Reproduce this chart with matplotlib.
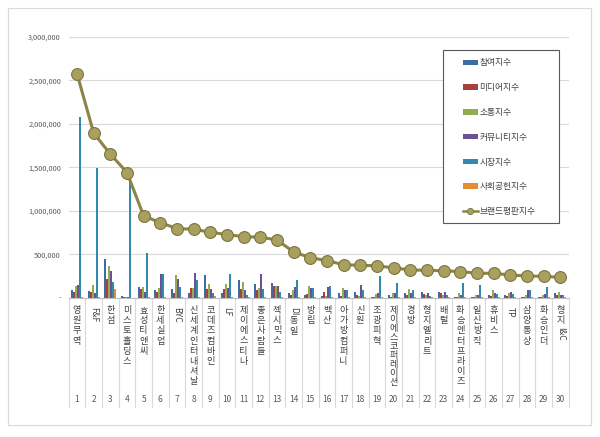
import matplotlib
matplotlib.use('Agg')
import matplotlib.pyplot as plt
import matplotlib.transforms as mtransforms
import numpy as np
from matplotlib.patches import Rectangle
from matplotlib.lines import Line2D
from matplotlib.ticker import FuncFormatter

plt.rcParams['font.family'] = ['Noto Sans CJK KR', 'DejaVu Sans']

# ---------------- data ----------------
categories = ['영원무역', 'F&F', '한섬', '미스토홀딩스', '효성티앤씨', '한세실업', 'BYC',
              '신세계인터내셔날', '코데즈컴바인', 'LF', '제이에스티나', '좋은사람들', '젝시믹스',
              'DI동일', '방림', '백산', '아가방컴퍼니', '신원', '조광피혁', '제이에스코퍼레이션',
              '경방', '형지엘리트', '배럴', '화승엔터프라이즈', '일신방직', '휴비스', 'TP',
              '삼양통상', '화승인더', '형지I&C']
ranks = list(range(1, 31))

series_names = ['참여지수', '미디어지수', '소통지수', '커뮤니티지수', '시장지수', '사회공헌지수']
line_name = '브랜드평판지수'

participation = [88000, 80000, 442000, 20000, 120000, 88000, 96000, 50000, 262000, 50000,
                 204000, 158000, 165000, 50000, 30000, 20000, 50000, 70000, 8000, 30000,
                 50000, 70000, 70000, 12000, 12000, 30000, 30000, 12000, 12000, 50000]
media = [70000, 70000, 215000, 5000, 96000, 70000, 50000, 110000, 96000, 96000,
         96000, 88000, 135000, 30000, 40000, 70000, 25000, 30000, 5000, 10000,
         30000, 40000, 50000, 10000, 10000, 20000, 20000, 8000, 10000, 30000]
communication = [138000, 146000, 370000, 5000, 120000, 115000, 262000, 110000, 158000, 158000,
                 185000, 110000, 135000, 88000, 138000, 20000, 108000, 20000, 42000, 50000,
                 96000, 30000, 30000, 50000, 30000, 88000, 50000, 30000, 30000, 70000]
community = [146000, 58000, 312000, 5000, 70000, 273000, 212000, 280000, 96000, 108000,
             88000, 273000, 135000, 127000, 108000, 127000, 88000, 146000, 50000, 50000,
             50000, 50000, 60000, 30000, 30000, 50000, 70000, 88000, 40000, 30000]
market = [2080000, 1490000, 185000, 1330000, 512000, 273000, 127000, 204000, 50000, 273000,
          30000, 96000, 70000, 204000, 108000, 135000, 88000, 88000, 250000, 173000,
          88000, 20000, 30000, 165000, 146000, 40000, 40000, 88000, 120000, 30000]
social = [10000, 10000, 96000, 2000, 10000, 5000, 10000, 10000, 20000, 10000,
          10000, 10000, 10000, 5000, 5000, 5000, 5000, 5000, 3000, 3000,
          5000, 5000, 5000, 3000, 3000, 5000, 5000, 3000, 3000, 5000]
brand = [2577000, 1894000, 1652000, 1440000, 941000, 864000, 795000, 788000, 753000, 726000,
         703000, 696000, 665000, 526000, 461000, 426000, 380000, 372000, 368000, 342000,
         320000, 315000, 310000, 300000, 282000, 280000, 262000, 250000, 246000, 235000]

y_ticks = [0, 500000, 1000000, 1500000, 2000000, 2500000, 3000000]

bar_colors = ['#3c6ba6', '#a8413d', '#91ad50', '#6e5194', '#3189ad', '#e58c35']
line_color = '#8a8445'
marker_face = '#a8a05c'
marker_edge = '#7a7440'

# ---------------- figure ----------------
W, H = 600, 437
fig = plt.figure(figsize=(6, 4.37), dpi=100)
fig.patches.append(Rectangle((8 / W, (H - 425) / H), 583 / W, 417 / H, transform=fig.transFigure,
                             fill=False, edgecolor='#d9d9d9', linewidth=0.8))

ax_left, ax_right, ax_top, ax_bottom = 68.7, 568.6, 37.0, 297.7
ax = fig.add_axes([ax_left / W, (H - ax_bottom) / H, (ax_right - ax_left) / W, (ax_bottom - ax_top) / H])

x = np.arange(1, len(categories) + 1)
all_series = [participation, media, communication, community, market, social]
bw = 0.12
bar_handles = []
for k, (vals, col, name) in enumerate(zip(all_series, bar_colors, series_names)):
    b = ax.bar(x + (k - 2.5) * bw, vals, width=bw, color=col, linewidth=0, label=name, zorder=2)
    bar_handles.append(b)

ax.plot(x, brand, color=line_color, lw=2.2, marker='o', ms=8.5, mfc=marker_face, mec=marker_edge,
        mew=0.8, zorder=5)

ax.set_xlim(0.5, len(categories) + 0.5)
ax.set_ylim(0, 3000000)
ax.set_yticks(y_ticks)
ax.yaxis.set_major_formatter(FuncFormatter(lambda v, p: '-' if v == 0 else f'{int(v):,}'))
ax.tick_params(axis='y', length=0, labelsize=5.3, labelcolor='#595959', pad=5.5)
ax.set_xticks([])
ax.grid(axis='y', color='#d9d9d9', lw=0.8)
ax.set_axisbelow(True)
for s in ['top', 'right', 'left']:
    ax.spines[s].set_visible(False)
ax.spines['bottom'].set_color('#bfbfbf')
ax.spines['bottom'].set_linewidth(0.8)

ax_h = ax_bottom - ax_top
blend = mtransforms.blended_transform_factory(ax.transData, ax.transAxes)

# category separators
sep_bottom = -(407 - ax_bottom) / ax_h
for b in np.arange(0.5, len(categories) + 1, 1):
    ax.plot([b, b], [0, sep_bottom], transform=blend, color='#d9d9d9', lw=0.8, clip_on=False)

# rank numbers
num_y = -(400 - ax_bottom) / ax_h
for i, r in zip(x, ranks):
    ax.text(i, num_y, str(r), transform=blend, ha='center', va='center', fontsize=6, color='#595959')

# vertical category labels
fig.canvas.draw()
renderer = fig.canvas.get_renderer()
PX2PT = 72 / 100
start_px = 306 - ax_bottom
max_span_px = 72.0
label_color = '#404040'


def split_runs(s):
    runs = []
    cur = ''
    for ch in s:
        if ord(ch) >= 0xAC00:
            if cur:
                runs.append((cur, False))
                cur = ''
            runs.append((ch, True))
        else:
            cur += ch
    if cur:
        runs.append((cur, False))
    return runs


for i, lab in zip(x, categories):
    runs = split_runs(lab)
    nk = sum(1 for _, k in runs if k)
    pitch_px = 10.2 if nk <= 1 else min(10.2, max_span_px / (nk - 1))
    off = start_px
    for txt, kor in runs:
        if kor:
            ax.annotate(txt, xy=(i, 0), xycoords=blend, xytext=(0, -off * PX2PT),
                        textcoords='offset points', ha='center', va='top', fontsize=6.6,
                        color=label_color, annotation_clip=False)
            off += pitch_px
        else:
            t = ax.annotate(txt, xy=(i, 0), xycoords=blend, xytext=(0, -(off + 1) * PX2PT),
                            textcoords='offset points', ha='center', va='top', fontsize=6.2,
                            rotation=270, color=label_color, annotation_clip=False)
            ext = t.get_window_extent(renderer=renderer)
            off += ext.height + 2

# legend
fig.patches.append(Rectangle((443 / W, (H - 223) / H), 116 / W, 173 / H, transform=fig.transFigure,
                             facecolor='white', edgecolor='#595959', linewidth=0.8, zorder=10))
line_handle = Line2D([], [], color=line_color, lw=1.8, marker='o', ms=4.5, mfc=marker_face,
                     mec=marker_edge, mew=0.6)
leg = fig.legend(bar_handles + [line_handle], series_names + [line_name], loc='upper left',
                 bbox_to_anchor=(463 / W, (H - 58.5) / H), frameon=False, fontsize=6.3,
                 handlelength=1.7, handleheight=0.6, handletextpad=0.2, labelspacing=1.8,
                 borderpad=0, borderaxespad=0)
leg.set_zorder(11)
for t in leg.get_texts():
    t.set_color('#404040')

fig.savefig('out.png', dpi=100)
